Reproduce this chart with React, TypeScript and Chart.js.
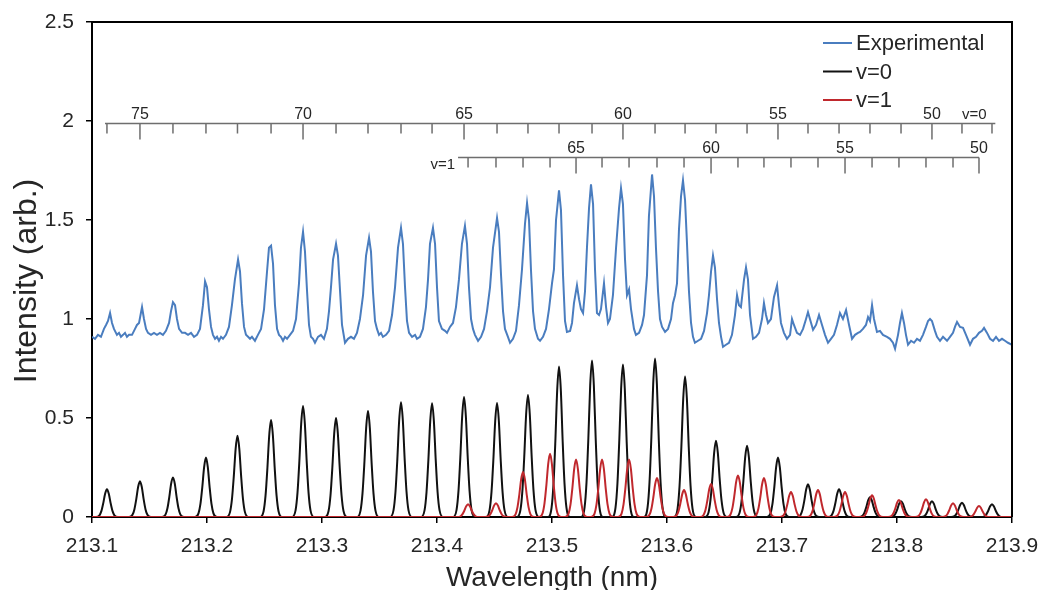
import React, { useEffect, useRef } from "react";
import { Chart, registerables } from "chart.js";

Chart.register(...registerables);

const FONT = '"Liberation Sans", Arial, Helvetica, sans-serif';

const xTickValues = [213.1, 213.2, 213.3, 213.4, 213.5, 213.6, 213.7, 213.8, 213.9];
const yTickValues = [0, 0.5, 1, 1.5, 2, 2.5];
const seriesNames = ["Experimental", "v=0", "v=1"];
const seriesColors = ["#4a7dbf", "#111111", "#c0282d"];
const xTitle = "Wavelength (nm)";
const yTitle = "Intensity (arb.)";

const expWavelength = [
  213.1, 213.1026, 213.1052, 213.1078, 213.1104, 213.1122, 213.1139, 213.1157, 213.1174, 213.1191,
  213.1217, 213.1235, 213.1252, 213.127, 213.1287, 213.1304, 213.1322, 213.1348, 213.1374, 213.1391,
  213.1409, 213.1435, 213.1452, 213.147, 213.1487, 213.1513, 213.1539, 213.1565, 213.1591, 213.1617,
  213.1643, 213.167, 213.1687, 213.1704, 213.1722, 213.1739, 213.1757, 213.1783, 213.1809, 213.1835,
  213.1861, 213.1887, 213.1913, 213.1939, 213.1965, 213.1983, 213.2, 213.2017, 213.2035, 213.2052,
  213.207, 213.2087, 213.2104, 213.2122, 213.2139, 213.2165, 213.2191, 213.2217, 213.2243, 213.227,
  213.2287, 213.2304, 213.2322, 213.2339, 213.2357, 213.2374, 213.2391, 213.2417, 213.2443, 213.247,
  213.2496, 213.2522, 213.2539, 213.2557, 213.2574, 213.2591, 213.2609, 213.2626, 213.2643, 213.2661,
  213.2678, 213.2696, 213.2722, 213.2748, 213.2774, 213.28, 213.2817, 213.2835, 213.2852, 213.287,
  213.2887, 213.2904, 213.2922, 213.2939, 213.2965, 213.2991, 213.3017, 213.3043, 213.3061, 213.3078,
  213.3096, 213.3122, 213.3139, 213.3157, 213.3174, 213.32, 213.3226, 213.3252, 213.3278, 213.3304,
  213.333, 213.3357, 213.3383, 213.3409, 213.3426, 213.3443, 213.3461, 213.3478, 213.3496, 213.3513,
  213.353, 213.3557, 213.3583, 213.3609, 213.3635, 213.3661, 213.3687, 213.3704, 213.3722, 213.3739,
  213.3757, 213.3783, 213.3809, 213.3826, 213.3852, 213.3878, 213.3904, 213.3922, 213.3939, 213.3965,
  213.3983, 213.4, 213.4017, 213.4043, 213.407, 213.4087, 213.4113, 213.4139, 213.4165, 213.4191,
  213.4217, 213.4243, 213.4261, 213.4278, 213.4296, 213.4313, 213.433, 213.4357, 213.4383, 213.4409,
  213.4435, 213.4461, 213.4487, 213.4522, 213.4539, 213.4557, 213.4574, 213.4591, 213.4617, 213.4635,
  213.4661, 213.4687, 213.4713, 213.4739, 213.4765, 213.4783, 213.48, 213.4817, 213.4835, 213.4852,
  213.4878, 213.4896, 213.4922, 213.4948, 213.4974, 213.5, 213.5017, 213.5035, 213.5061, 213.5078,
  213.5096, 213.5113, 213.513, 213.5157, 213.5174, 213.5191, 213.5217, 213.5235, 213.5252, 213.527,
  213.5287, 213.5304, 213.5322, 213.5339, 213.5357, 213.5374, 213.5391, 213.5409, 213.5426, 213.5452,
  213.547, 213.5487, 213.5504, 213.553, 213.5557, 213.5583, 213.56, 213.5617, 213.5635, 213.5652,
  213.567, 213.5687, 213.5713, 213.573, 213.5757, 213.5783, 213.58, 213.5826, 213.5843, 213.587,
  213.5887, 213.5904, 213.5922, 213.5939, 213.5957, 213.5983, 213.6009, 213.6035, 213.6052, 213.607,
  213.6087, 213.6104, 213.6122, 213.6139, 213.6157, 213.6174, 213.6191, 213.6209, 213.6226, 213.6243,
  213.627, 213.6296, 213.6322, 213.6348, 213.6365, 213.6383, 213.64, 213.6417, 213.6435, 213.6452,
  213.647, 213.6487, 213.6513, 213.6539, 213.6565, 213.6591, 213.6609, 213.6626, 213.6643, 213.667,
  213.6687, 213.6704, 213.6722, 213.6748, 213.6774, 213.68, 213.6826, 213.6843, 213.6861, 213.6878,
  213.6904, 213.693, 213.6957, 213.6974, 213.6991, 213.7017, 213.7043, 213.707, 213.7087, 213.7104,
  213.713, 213.7157, 213.7183, 213.7209, 213.7226, 213.7243, 213.727, 213.7296, 213.7322, 213.7348,
  213.7374, 213.74, 213.7426, 213.7452, 213.7478, 213.7504, 213.753, 213.7557, 213.7583, 213.7609,
  213.7635, 213.7661, 213.7678, 213.7704, 213.773, 213.7748, 213.7765, 213.7783, 213.78, 213.7826,
  213.7852, 213.7878, 213.7913, 213.7939, 213.7965, 213.7983, 213.8009, 213.8026, 213.8043, 213.8061,
  213.8078, 213.8096, 213.8122, 213.8148, 213.8174, 213.82, 213.8226, 213.8252, 213.827, 213.8287,
  213.8304, 213.833, 213.8348, 213.8374, 213.84, 213.8435, 213.8461, 213.8487, 213.8504, 213.8522,
  213.8548, 213.8574, 213.86, 213.8635, 213.8661, 213.8687, 213.8713, 213.8739, 213.8757, 213.8783,
  213.8809, 213.8835, 213.8861, 213.8887, 213.8913, 213.8939, 213.8965, 213.9,
];

const expIntensity = [
  0.91, 0.9, 0.92, 0.91, 0.95, 0.97, 0.99, 1.03, 0.98, 0.95,
  0.92, 0.93, 0.91, 0.92, 0.93, 0.91, 0.92, 0.92, 0.95, 0.97,
  0.98, 1.06, 1.0, 0.95, 0.93, 0.92, 0.93, 0.92, 0.93, 0.92,
  0.94, 0.98, 1.04, 1.085, 1.07, 1.0, 0.95, 0.93, 0.93, 0.92,
  0.93, 0.91, 0.92, 0.95, 1.07, 1.19, 1.16, 1.05, 0.96, 0.92,
  0.9, 0.91, 0.89, 0.91, 0.9, 0.92, 0.96, 1.07, 1.2, 1.3,
  1.24, 1.08, 0.96, 0.92, 0.91, 0.9, 0.91, 0.89, 0.92, 0.95,
  1.05, 1.24, 1.36, 1.37, 1.28, 1.07, 0.95, 0.92, 0.91, 0.89,
  0.91, 0.9, 0.92, 0.94, 1.0, 1.18, 1.36, 1.44, 1.34, 1.14,
  0.97, 0.91, 0.9, 0.88, 0.91, 0.92, 0.9, 0.95, 1.04, 1.16,
  1.3, 1.38, 1.32, 1.14, 0.97, 0.88, 0.9, 0.91, 0.9, 0.93,
  1.0, 1.12, 1.32, 1.41, 1.34, 1.14, 0.99, 0.95, 0.92, 0.93,
  0.91, 0.92, 0.94, 1.02, 1.16, 1.36, 1.46, 1.38, 1.16, 0.99,
  0.93, 0.91, 0.92, 0.9, 0.91, 0.95, 1.06, 1.2, 1.38, 1.46,
  1.38, 1.16, 0.99, 0.95, 0.94, 0.93, 0.96, 0.98, 1.06, 1.2,
  1.38, 1.47, 1.38, 1.16, 1.0, 0.95, 0.92, 0.89, 0.91, 0.95,
  1.04, 1.16, 1.36, 1.51, 1.44, 1.22, 1.04, 0.95, 0.91, 0.88,
  0.9, 0.94, 1.07, 1.25, 1.48, 1.585, 1.5, 1.25, 1.04, 0.95,
  0.9, 0.89, 0.91, 0.95, 1.05, 1.18, 1.25, 1.5, 1.65, 1.55,
  1.22, 0.99, 0.935, 0.94, 0.98, 1.08, 1.17, 1.1, 1.05, 1.03,
  1.14, 1.36, 1.56, 1.68, 1.58, 1.25, 1.03, 1.02, 1.05, 1.18,
  1.06, 0.98, 1.0, 1.12, 1.36, 1.56, 1.66, 1.58, 1.3, 1.12,
  1.15, 1.05, 0.95, 0.92, 0.93, 0.97, 1.02, 1.22, 1.52, 1.73,
  1.62, 1.36, 1.14, 1.0, 0.96, 0.935, 0.95, 1.0, 1.08, 1.12,
  1.18, 1.45, 1.62, 1.7, 1.6, 1.38, 1.14, 0.98, 0.91, 0.88,
  0.89, 0.9, 0.94, 1.03, 1.12, 1.24, 1.32, 1.26, 1.1, 0.98,
  0.91, 0.86, 0.87, 0.88, 0.92, 1.02, 1.12, 1.07, 1.06, 1.2,
  1.26, 1.2, 1.02, 0.9, 0.91, 0.93, 1.0, 1.08, 1.02, 0.98,
  1.0, 1.11, 1.17, 1.07, 0.98, 0.93, 0.9, 0.92, 1.0, 0.97,
  0.93, 0.92, 0.95, 1.0, 1.035, 1.0, 0.945, 0.97, 1.02, 0.97,
  0.92, 0.88, 0.9, 0.92, 0.97, 1.03, 1.0, 1.045, 0.97, 0.9,
  0.92, 0.93, 0.935, 0.95, 0.97, 1.01, 0.99, 1.07, 1.0, 0.935,
  0.94, 0.92, 0.91, 0.9, 0.88, 0.85, 0.92, 0.98, 1.03, 0.98,
  0.92, 0.87, 0.89, 0.88, 0.9, 0.89, 0.92, 0.96, 0.99, 1.0,
  0.99, 0.94, 0.91, 0.89, 0.91, 0.89, 0.91, 0.93, 0.96, 0.985,
  0.96, 0.955, 0.92, 0.87, 0.9, 0.91, 0.93, 0.94, 0.955, 0.93,
  0.9, 0.89, 0.91, 0.89, 0.9, 0.89, 0.88, 0.87,
];

// v=0 simulated band: rotational J, line centre (nm), peak intensity
const v0J = [76, 75, 74, 73, 72, 71, 70, 69, 68, 67, 66, 65, 64, 63, 62, 61, 60, 59, 58, 57, 56, 55, 54, 53, 52, 51, 50, 49, 48];
const v0Center = [
  213.113, 213.1417, 213.1704, 213.1991, 213.2265, 213.2557, 213.2835, 213.3122, 213.34, 213.3687,
  213.3957, 213.4235, 213.4522, 213.4791, 213.5061, 213.5348, 213.5617, 213.5896, 213.6157, 213.6426,
  213.6696, 213.6965, 213.7226, 213.7496, 213.7765, 213.8035, 213.8304, 213.8565, 213.8826,
];
const v0Height = [
  0.14, 0.18, 0.2, 0.3, 0.41, 0.49, 0.56, 0.5, 0.535, 0.58,
  0.575, 0.606, 0.576, 0.616, 0.76, 0.79, 0.77, 0.8, 0.71, 0.385,
  0.36, 0.3, 0.165, 0.14, 0.1, 0.08, 0.08, 0.072, 0.065,
];

// v=1 simulated band
const v1J = [69, 68, 67, 66, 65, 64, 63, 62, 61, 60, 59, 58, 57, 56, 55, 54, 53, 52, 51, 50];
const v1Center = [
  213.427, 213.4513, 213.4748, 213.4983, 213.5209, 213.5435, 213.567, 213.5913, 213.6148, 213.6383,
  213.6617, 213.6843, 213.7078, 213.7313, 213.7548, 213.7783, 213.8017, 213.8252, 213.8487, 213.8713,
];
const v1Height = [
  0.065, 0.07, 0.227, 0.32, 0.29, 0.29, 0.29, 0.197, 0.136, 0.167,
  0.21, 0.197, 0.126, 0.136, 0.126, 0.11, 0.086, 0.09, 0.07, 0.056,
];

// assignment combs (intensity level of the comb line, and its extent in nm)
const v0CombLevel = 1.99;
const v1CombLevel = 1.82;
const v0CombSpan = [213.1113, 213.8855];
const v1CombSpan = [213.4183, 213.8713];

// line-shape profile used to draw each simulated line from its centre and height
const peakOffsets = [-0.0095, -0.0065, -0.0048, -0.0032, -0.0016, 0, 0.0016, 0.0032, 0.0048, 0.0065, 0.0095];
const peakFractions = [0, 0.06, 0.22, 0.5, 0.84, 1, 0.84, 0.5, 0.22, 0.06, 0];

function buildPeaks(centers: number[], heights: number[]) {
  const pts: { x: number; y: number }[] = [{ x: xTickValues[0], y: 0 }];
  centers.forEach((c, i) => {
    peakOffsets.forEach((o, k) => pts.push({ x: c + o, y: heights[i] * peakFractions[k] }));
  });
  pts.push({ x: xTickValues[xTickValues.length - 1], y: 0 });
  return pts;
}

const combPlugin = {
  id: "combs",
  afterDatasetsDraw(chart: any) {
    const { ctx } = chart;
    const xs = chart.scales.x;
    const ys = chart.scales.y;
    const draw = (centers: number[], js: number[], level: number, span: number[]) => {
      const y0 = Math.round(ys.getPixelForValue(level)) + 0.5;
      ctx.save();
      ctx.strokeStyle = "#6e6e6e";
      ctx.lineWidth = 1.5;
      ctx.beginPath();
      ctx.moveTo(xs.getPixelForValue(span[0]), y0);
      ctx.lineTo(xs.getPixelForValue(span[1]), y0);
      centers.forEach((c, i) => {
        const x = xs.getPixelForValue(c);
        const long = js[i] % 5 === 0;
        ctx.moveTo(x, y0);
        ctx.lineTo(x, y0 + (long ? 16 : 10));
      });
      ctx.stroke();
      ctx.fillStyle = "#262626";
      ctx.font = "16px " + FONT;
      ctx.textAlign = "center";
      ctx.textBaseline = "alphabetic";
      centers.forEach((c, i) => {
        if (js[i] % 5 === 0) ctx.fillText(String(js[i]), xs.getPixelForValue(c), y0 - 5);
      });
      ctx.restore();
      return y0;
    };
    const y0 = draw(v0Center, v0J, v0CombLevel, v0CombSpan);
    const y1 = draw(v1Center, v1J, v1CombLevel, v1CombSpan);
    ctx.save();
    ctx.fillStyle = "#262626";
    ctx.font = "15px " + FONT;
    ctx.textBaseline = "alphabetic";
    ctx.textAlign = "left";
    ctx.fillText("v=0", xs.getPixelForValue(v0Center[v0Center.length - 2]), y0 - 5);
    ctx.textAlign = "right";
    ctx.fillText("v=1", xs.getPixelForValue(v1CombSpan[0]) - 3, y1 + 11);
    ctx.restore();
  },
};

const framePlugin = {
  id: "frame",
  afterDraw(chart: any) {
    const { ctx, chartArea } = chart;
    ctx.save();
    ctx.strokeStyle = "#000";
    ctx.lineWidth = 2;
    ctx.beginPath();
    ctx.moveTo(chartArea.left, chartArea.top);
    ctx.lineTo(chartArea.right, chartArea.top);
    ctx.lineTo(chartArea.right, chartArea.bottom);
    ctx.stroke();
    // y-axis title
    ctx.save();
    ctx.translate(27, chartArea.top + 259);
    ctx.rotate(-Math.PI / 2);
    ctx.font = "32px " + FONT;
    ctx.fillStyle = "#262626";
    ctx.textAlign = "center";
    ctx.textBaseline = "middle";
    ctx.fillText(yTitle, 0, 0);
    ctx.restore();
    // legend
    ctx.font = "22px " + FONT;
    ctx.textAlign = "left";
    ctx.textBaseline = "middle";
    seriesNames.forEach((name, i) => {
      const y = chartArea.top + 21 + i * 28.5;
      ctx.strokeStyle = seriesColors[i];
      ctx.lineWidth = 2;
      ctx.beginPath();
      ctx.moveTo(chartArea.right - 189, y);
      ctx.lineTo(chartArea.right - 160, y);
      ctx.stroke();
      ctx.fillStyle = "#262626";
      ctx.fillText(name, chartArea.right - 156, y + 1);
    });
    ctx.restore();
  },
};

export default function App() {
  const ref = useRef<HTMLCanvasElement | null>(null);
  useEffect(() => {
    if (!ref.current) return;
    const expData = expWavelength.map((x, i) => ({ x, y: expIntensity[i] }));
    const chart = new Chart(ref.current, {
      type: "line",
      data: {
        datasets: [
          {
            label: seriesNames[2],
            data: buildPeaks(v1Center, v1Height),
            borderColor: seriesColors[2],
            borderWidth: 2,
            pointRadius: 0,
            cubicInterpolationMode: "monotone",
            order: 0,
          },
          {
            label: seriesNames[1],
            data: buildPeaks(v0Center, v0Height),
            borderColor: seriesColors[1],
            borderWidth: 2,
            pointRadius: 0,
            cubicInterpolationMode: "monotone",
            order: 1,
          },
          {
            label: seriesNames[0],
            data: expData,
            borderColor: seriesColors[0],
            borderWidth: 2,
            pointRadius: 0,
            tension: 0,
            order: 2,
          },
        ],
      },
      options: {
        responsive: false,
        animation: false,
        devicePixelRatio: 1,
        layout: { padding: { left: 0, top: 22, right: 30, bottom: 0 } },
        plugins: { legend: { display: false }, tooltip: { enabled: false } },
        scales: {
          x: {
            type: "linear",
            min: 213.1,
            max: 213.9,
            afterBuildTicks: (s: any) => {
              s.ticks = xTickValues.map((v) => ({ value: v }));
            },
            afterFit: (s: any) => {
              s.height = 73;
              s.paddingLeft = 0;
              s.paddingRight = 0;
            },
            ticks: {
              callback: (v: any) => Number(v).toFixed(1),
              font: { family: FONT, size: 21 },
              color: "#262626",
              padding: 11,
              maxRotation: 0,
              autoSkip: false,
            },
            grid: { display: true, drawOnChartArea: false, drawTicks: true, tickLength: 6, color: "#000", lineWidth: 1.5 },
            border: { display: true, color: "#000", width: 2 },
            title: {
              display: true,
              text: xTitle,
              font: { family: FONT, size: 28, lineHeight: 1 },
              color: "#262626",
              padding: { top: 0, bottom: -2 },
            },
          },
          y: {
            min: 0,
            max: 2.5,
            afterBuildTicks: (s: any) => {
              s.ticks = yTickValues.map((v) => ({ value: v }));
            },
            afterFit: (s: any) => {
              s.width = 92;
              s.paddingTop = 0;
              s.paddingBottom = 0;
            },
            ticks: {
              callback: (v: any) => String(v),
              font: { family: FONT, size: 21 },
              color: "#262626",
              padding: 12,
            },
            grid: { display: true, drawOnChartArea: false, drawTicks: true, tickLength: 6, color: "#000", lineWidth: 1.5 },
            border: { display: true, color: "#000", width: 2 },
            title: { display: false },
          },
        },
      },
      plugins: [combPlugin, framePlugin],
    } as any);
    return () => chart.destroy();
  }, []);
  return (
    <div style={{ position: "absolute", left: 0, top: 0, width: 1042, height: 590, background: "#fff" }}>
      <canvas ref={ref} width={1042} height={590} />
    </div>
  );
}
